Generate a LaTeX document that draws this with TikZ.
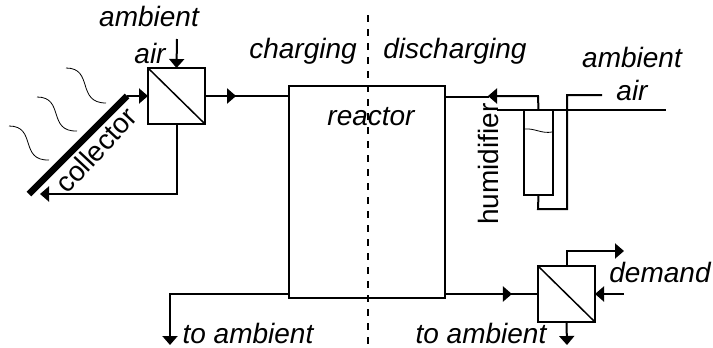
\documentclass[tikz,border=0pt]{standalone}
\usepackage{fontspec}
\setmainfont{Liberation Sans}
\usetikzlibrary{arrows.meta,decorations.markings,calc}
\tikzset{
  line/.style={draw=black,line width=2pt},
  tip/.style={-{Triangle[length=9pt,width=15pt]}},
  midtip/.style={postaction={decorate,decoration={markings,mark=at position #1 with {\arrow{Triangle[length=9pt,width=15pt]}}}}},
  hx/.style={draw=black,line width=2pt,fill=white,minimum width=57pt,minimum height=56pt,inner sep=0pt,outer sep=0pt},
  wave/.style={draw=black,line width=0.8pt},
  lab/.style={font=\fontsize{28}{30}\selectfont\itshape,inner sep=0pt,anchor=base},
  uplab/.style={font=\fontsize{28}{30}\selectfont,inner sep=0pt},
}
\begin{document}
\begin{tikzpicture}[x=1pt,y=-1pt]
\useasboundingbox (0,0) rectangle (713,348);
% divider
\coordinate (divT) at (368,15);
\coordinate (divB) at (368,345);
\draw[line width=1.5pt,dash pattern=on 7pt off 7pt] (divT) -- (divB);
% reactor
\node[draw=black,line width=2pt,minimum width=156pt,minimum height=212pt,inner sep=0pt,outer sep=0pt,anchor=north west] (reactor) at (289,86) {};
\node[lab] (reactorlab) at (371,125) {reactor};
% exchangers
\node[hx] (hxa) at (176.5,96) {};
\node[hx] (hxb) at (566.5,294) {};
\draw[line width=1.5pt] (hxa.north west) -- (hxa.south east);
\draw[line width=1.5pt] (hxb.north west) -- (hxb.south east);
% collector
\coordinate (colT) at (127,96);
\coordinate (colB) at (29,194);
\draw[line width=6.5pt] (colT) -- (colB);
\node[uplab,rotate=47] (collab) at (96,150) {collector};
% waves
\coordinate (w1a) at (66,68); \coordinate (w1b) at (106,103);
\coordinate (w2a) at (37,97); \coordinate (w2b) at (77,131);
\coordinate (w3a) at (9,126); \coordinate (w3b) at (49,160);
\foreach \a/\b in {w1a/w1b,w2a/w2b,w3a/w3b}
  \draw[wave] (\a) .. controls ($(\a)+(28,0)$) and ($(\a)+(10,35)$) .. (\b);
% charging connectors
\draw[line,tip] (colT) -- (hxa.west);
\draw[line,midtip=0.37] (hxa.east) -- (reactor.west |- hxa.east);
\coordinate (airin) at (177,39);
\draw[line,tip] (airin) -- (hxa.north);
\coordinate (colin) at (40,194);
\draw[line,tip] (hxa.south) |- (colin);
\coordinate (outA) at (170,345);
\draw[line,tip] (reactor.west |- 0,294) -| (outA);
% humidifier
\node[draw=black,line width=2pt,minimum width=29pt,minimum height=85pt,inner sep=0pt,outer sep=0pt,anchor=north west] (hum) at (524,110) {};
\coordinate (ductL) at (497,110);
\coordinate (ductR) at (666,110);
\draw[line] (ductL) -- (ductR);
\draw[wave] (525,129) .. controls (534,128) and (542,134) .. (552,132);
\coordinate (airend) at (602,95);
\coordinate (humout) at (538,96);
\draw[line] (airend) -- (567,95) -- (567,209) -- (538,209) -- (hum.south);
\draw[line,tip] (hum.north) -- (538,96) -- (488,96);
\draw[line] (489,96.5) -- (reactor.east |- 0,96.5);
% discharge
\draw[line,midtip=0.72] (reactor.east |- hxb.west) -- (hxb.west);
\coordinate (demout) at (624,251);
\draw[line,tip] (hxb.north) |- (demout);
\coordinate (demin) at (624,294);
\draw[line,tip] (demin) -- (hxb.east);
\coordinate (outB) at (567,345);
\draw[line,tip] (hxb.south) -- (outB);
% labels
\node[lab] (l1) at (149,27) {ambient};
\node[lab] (l2) at (150,63) {air};
\node[lab] (l3) at (303,58) {charging};
\node[lab] (l4) at (455,58) {discharging};
\node[lab] (l5) at (632,67) {ambient};
\node[lab] (l6) at (632,100) {air};
\node[lab] (l7) at (248,343) {to ambient};
\node[lab] (l8) at (481,343) {to ambient};
\node[lab] (l9) at (660,282) {demand};
\node[uplab,rotate=90] (humlab) at (488,164) {humidifier};
\end{tikzpicture}
\end{document}
